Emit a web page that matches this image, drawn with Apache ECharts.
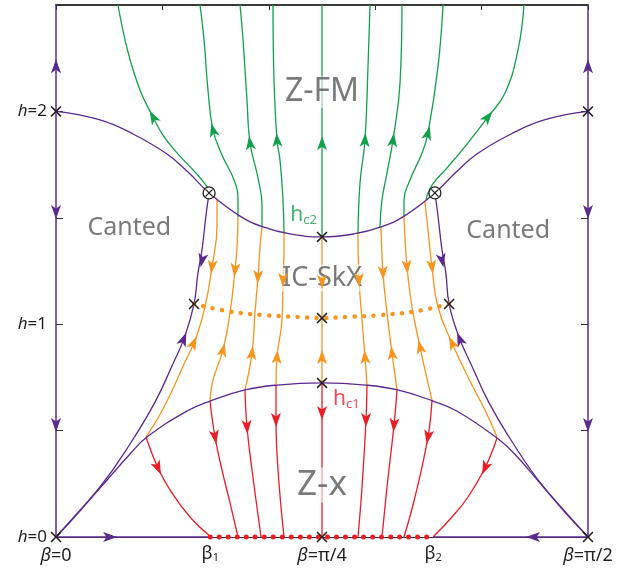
<!DOCTYPE html>
<html>
<head>
<meta charset="utf-8">
<script src="https://cdn.jsdelivr.net/npm/echarts@6/dist/echarts.min.js"></script>
<style>
html, body { margin: 0; padding: 0; background: #fff; }
#main { width: 617px; height: 574px; }
</style>
</head>
<body>
<div id="main"></div>
<script>
// x: beta in degrees (0 .. 90 = pi/2), y: field h
var betaTickValues = [0, 26.1, 45, 63.8, 90];
var betaTickLabels = ['{i|β}=0', 'β{s|1}', '{i|β}=π/4', 'β{s|2}', '{i|β}=π/2'];
var hLabelValues = [0, 1, 2];

// phase boundaries (purple)
var hc2Curve = [[0, 2.0], [7.44, 1.96], [13.03, 1.894], [18.78, 1.8], [22.33, 1.715], [25.9, 1.617],
  [31.13, 1.508], [35.02, 1.457], [39.59, 1.424], [45, 1.41], [50.4, 1.424], [55, 1.457], [58.9, 1.508],
  [64.1, 1.617], [67.7, 1.715], [71.2, 1.8], [77, 1.894], [82.6, 1.96], [90, 2.0]];
var hc1Curve = [[0, 0], [7.44, 0.23], [12.52, 0.39], [15.39, 0.47], [22.16, 0.592], [26.05, 0.639], [31.97, 0.691],
  [37.39, 0.714], [45, 0.724], [52.4, 0.714], [57.8, 0.691], [63.8, 0.639], [67.8, 0.592], [74.61, 0.465],
  [77.6, 0.39], [82.6, 0.23], [90, 0]];
var leftSkxEdge = [[0, 0], [7.44, 0.235], [12.52, 0.437], [16.75, 0.634], [19.62, 0.804], [21.82, 0.945],
  [23.35, 1.095], [24.02, 1.241], [24.7, 1.349], [25.38, 1.513], [25.9, 1.617]];
var rightSkxEdge = [[64.1, 1.617], [64.6, 1.513], [65.3, 1.349], [65.95, 1.241], [66.5, 1.095], [68.1, 0.945],
  [70.35, 0.804], [73.2, 0.634], [77.4, 0.437], [82.5, 0.235], [90, 0]];
var bottomLeft = [[0, 0], [26.1, 0]];
var bottomRight = [[63.8, 0], [90, 0]];

// dotted lines of fixed points
var skxDotted = [[23.35, 1.095], [28.93, 1.062], [35.02, 1.043], [40.77, 1.034], [45, 1.029], [49.2, 1.034],
  [55.0, 1.043], [61.1, 1.062], [66.5, 1.095]];
var zxDotted = [[26.1, 0], [63.8, 0]];

// flow lines
var greenLines = [
  [[26.73, 1.593], [25.21, 1.659], [23.18, 1.725], [20.47, 1.805], [18.1, 1.889], [16.41, 1.974], [14.21, 2.101], [12.18, 2.279], [10.49, 2.5]],
  [[30.79, 1.504], [30.79, 1.584], [30.11, 1.678], [28.08, 1.795], [26.56, 1.913], [25.71, 2.101], [25.04, 2.336], [24.36, 2.5]],
  [[34.85, 1.457], [34.85, 1.56], [34.17, 1.687], [32.82, 1.852], [32.31, 2.054], [31.64, 2.336], [31.13, 2.5]],
  [[38.57, 1.429], [38.4, 1.584], [37.89, 1.772], [37.39, 1.866], [36.88, 2.148], [36.71, 2.5]],
  [[45, 1.41], [45, 2.5]],
  [[51.09, 1.429], [51.43, 1.664], [52.27, 1.866], [52.78, 2.209], [53.12, 2.5]],
  [[54.81, 1.457], [55.15, 1.584], [56.0, 1.711], [57.01, 1.866], [58.2, 2.133], [58.53, 2.5]],
  [[58.87, 1.504], [58.87, 1.584], [59.89, 1.678], [61.92, 1.805], [62.93, 1.898], [64.62, 2.209], [65.47, 2.5]],
  [[62.59, 1.584], [63.61, 1.654], [66.31, 1.739], [69.7, 1.852], [73.08, 1.974], [75.96, 2.086], [78.16, 2.289], [79.17, 2.5]]
];
var orangeLines = [
  [[27.24, 1.584], [27.24, 1.466], [26.39, 1.269], [25.21, 1.081], [23.68, 0.935], [21.82, 0.822], [19.29, 0.667], [17.26, 0.559], [15.23, 0.47]],
  [[30.79, 1.504], [30.62, 1.363], [30.28, 1.255], [29.44, 1.053], [28.25, 0.879], [26.56, 0.738], [26.05, 0.639]],
  [[34.85, 1.457], [34.51, 1.363], [34.17, 1.222], [33.66, 1.053], [33.16, 0.865], [31.97, 0.691]],
  [[38.57, 1.429], [38.57, 1.349], [38.4, 1.208], [38.23, 1.02], [37.39, 0.846], [37.22, 0.714]],
  [[45, 1.41], [45, 0.724]],
  [[51.09, 1.429], [51.26, 1.208], [51.77, 1.02], [52.27, 0.846], [52.61, 0.714]],
  [[54.98, 1.457], [55.32, 1.241], [56.0, 1.053], [56.84, 0.865], [57.69, 0.691]],
  [[58.87, 1.504], [59.38, 1.269], [60.22, 1.081], [61.58, 0.893], [62.42, 0.785], [63.61, 0.644]],
  [[62.42, 1.574], [62.93, 1.443], [63.61, 1.269], [64.62, 1.081], [66.99, 0.912], [70.37, 0.714], [72.57, 0.597], [74.61, 0.47]]
];
var redLines = [
  [[15.23, 0.47], [17.26, 0.324], [19.29, 0.221], [22.67, 0.094], [26.22, 0]],
  [[26.05, 0.639], [26.9, 0.47], [28.08, 0.315], [29.44, 0.16], [30.79, 0]],
  [[31.97, 0.691], [32.31, 0.517], [33.16, 0.315], [34.68, 0]],
  [[37.22, 0.714], [37.22, 0.55], [37.56, 0.315], [38.57, 0]],
  [[45, 0.724], [45, 0]],
  [[52.61, 0.714], [52.44, 0.55], [51.77, 0.235], [51.09, 0]],
  [[57.69, 0.691], [57.18, 0.526], [56.0, 0.235], [55.15, 0]],
  [[63.61, 0.644], [62.93, 0.47], [60.73, 0.188], [58.87, 0]],
  [[74.61, 0.465], [72.57, 0.324], [69.7, 0.188], [66.99, 0.094], [63.78, 0]]
];

// arrows: [beta, h, direction (deg, counter-clockwise from up)]
var purpleArrows = [[0, 2.212, 0], [0, 1.527, 180], [0, 0.526, 180], [90, 2.212, 0], [90, 1.527, 180], [90, 0.526, 180],
  [9.14, 0, -90], [80.7, 0, 90], [24.7, 1.3, 168], [21.6, 0.93, -22], [65.3, 1.3, 192], [68.3, 0.93, 22]];
var greenArrows = [[16.41, 1.974, 29], [26.56, 1.913, 15], [32.82, 1.852, 8], [37.39, 1.866, 4], [45, 1.85, 0],
  [52.27, 1.866, -3], [57.01, 1.866, -8], [62.93, 1.898, -15], [73.08, 1.974, -38]];
var orangeArrows = [[26.39, 1.269, 173], [30.28, 1.255, 175], [34.17, 1.222, 177], [38.4, 1.208, 179], [45, 1.2, 180],
  [51.26, 1.208, 181], [55.32, 1.241, 183], [59.38, 1.269, 185], [63.61, 1.269, 187],
  [23.3, 0.912, -25], [28.25, 0.879, -14], [33.16, 0.865, -7], [37.39, 0.846, -4], [45, 0.846, 0],
  [52.27, 0.846, 4], [56.84, 0.865, 7], [61.58, 0.893, 14], [66.99, 0.912, 25]];
var redArrows = [[17.26, 0.324, 204], [26.9, 0.47, 190], [32.31, 0.517, 184], [37.22, 0.55, 181], [45, 0.583, 180],
  [52.44, 0.55, 179], [57.18, 0.526, 176], [62.93, 0.47, 170], [72.57, 0.324, 156]];

// fixed points
var fixedPoints = [[0, 2], [90, 2], [45, 1.41], [45, 1.029], [45, 0.724], [23.35, 1.095], [66.5, 1.095], [0, 0], [45, 0], [90, 0]];
var multicritical = [[25.9, 1.617], [64.1, 1.617]];

// phase names
var regionLabels = [['Z-FM', 45, 2.09, 32], ['Canted', 12.4, 1.452, 25], ['Canted', 76.5, 1.438, 25],
  ['IC-SkX', 45, 1.217, 27], ['Z-x', 45, 0.244, 35]];
var fieldLabels = [['c2', 41.9, 1.513], ['c1', 49.1, 0.65]];

var PURPLE = '#5b2a8e', GREEN = '#12a14b', ORANGE = '#f7941d', RED = '#ec1c24', INK = '#231f20', GREY = '#58595b';
var FONT = 'Noto Sans';

var myChart = echarts.init(document.getElementById('main'));

function curve(data, color, z) {
    return {
        type: 'line', data: data, symbol: 'none', smooth: 0.45, silent: true, clip: false,
        lineStyle: { color: color, width: 1.3 }, z: z || 2
    };
}
function dotted(data, color, w, gap) {
    return {
        type: 'line', data: data, symbol: 'none', silent: true, clip: false,
        lineStyle: { color: color, width: w, type: [0.01, gap], cap: 'round' }, z: 3, smooth: 0.4
    };
}
function arrows(list, color) {
    return {
        type: 'scatter', silent: true, z: 5, clip: false,
        symbol: 'path://M5,0 L10,14 L5,10.5 L0,14 Z', symbolSize: [10, 14],
        itemStyle: { color: color, opacity: 1 },
        data: list.map(function (a) { return { value: [a[0], a[1]], symbolRotate: a[2] }; })
    };
}

var series = [];
greenLines.forEach(function (d) { series.push(curve(d, GREEN)); });
orangeLines.forEach(function (d) { series.push(curve(d, ORANGE)); });
redLines.forEach(function (d) { series.push(curve(d, RED)); });
series.push(curve(hc2Curve, PURPLE, 3), curve(hc1Curve, PURPLE, 3), curve(leftSkxEdge, PURPLE, 3),
    curve(rightSkxEdge, PURPLE, 3), curve(bottomLeft, PURPLE, 3), curve(bottomRight, PURPLE, 3));
series.push(dotted(skxDotted, ORANGE, 4.5, 9.5), dotted(zxDotted, RED, 5, 9));
series.push(arrows(purpleArrows, PURPLE), arrows(greenArrows, GREEN), arrows(orangeArrows, ORANGE), arrows(redArrows, RED));

// multicritical points (circle with cross)
series.push({
    type: 'scatter', silent: true, z: 6, symbol: 'circle', symbolSize: 12, clip: false,
    itemStyle: { color: '#fff', borderColor: INK, borderWidth: 1.3, opacity: 1 },
    data: multicritical
});
var crossPath = 'path://M1,0 L5,4 L9,0 L10,1 L6,5 L10,9 L9,10 L5,6 L1,10 L0,9 L4,5 L0,1 Z';
series.push({
    type: 'scatter', silent: true, z: 7, symbol: crossPath, symbolSize: 8, clip: false,
    itemStyle: { color: INK, opacity: 1 }, data: multicritical
});
series.push({
    type: 'scatter', silent: true, z: 7, symbol: crossPath, symbolSize: 11, clip: false,
    itemStyle: { color: INK, opacity: 1 }, data: fixedPoints
});

// phase names
series.push({
    type: 'scatter', silent: true, z: 4, symbolSize: 0,
    data: regionLabels.map(function (r) {
        return {
            name: r[0], value: [r[1], r[2]],
            label: { fontSize: r[3] }
        };
    }),
    label: {
        show: true, position: 'inside', formatter: '{b}', color: GREY, fontFamily: FONT,
        backgroundColor: 'rgba(255,255,255,0.72)', padding: [0, 2]
    }
});
series.push({
    type: 'scatter', silent: true, z: 4, symbolSize: 0,
    data: fieldLabels.map(function (r, i) {
        var c = i === 0 ? GREEN : RED;
        return {
            name: r[0], value: [r[1], r[2]],
            label: { rich: { h: { color: c, fontSize: 21, lineHeight: 24, fontFamily: FONT },
                             s: { color: c, fontSize: 13, lineHeight: 12, verticalAlign: 'bottom', fontFamily: FONT } } }
        };
    }),
    label: { show: true, position: 'inside', formatter: function (p) { return '{h|h}{s|' + p.name + '}'; } }
});

var option = {
    animation: false,
    backgroundColor: '#fff',
    grid: { left: 56, right: 29, top: 5, bottom: 37 },
    xAxis: [
        {
            type: 'value', min: 0, max: 90, position: 'bottom',
            axisLine: { onZero: false, lineStyle: { color: '#333', width: 1 } },
            axisTick: { show: false },
            splitLine: { show: false },
            axisLabel: {
                customValues: betaTickValues, margin: 8, color: INK, fontFamily: FONT, fontSize: 18,
                formatter: function (v) {
                    var k = 0;
                    betaTickValues.forEach(function (b, i) { if (Math.abs(b - v) < 0.01) k = i; });
                    return betaTickLabels[k];
                },
                rich: {
                    i: { fontStyle: 'italic', fontSize: 18, color: INK, fontFamily: FONT, lineHeight: 21 },
                    s: { fontSize: 11, color: INK, lineHeight: 10, verticalAlign: 'bottom', fontFamily: FONT }
                }
            }
        },
        {
            type: 'value', min: 0, max: 90, interval: 18, position: 'top',
            axisLine: { onZero: false, lineStyle: { color: '#3a3a3a', width: 1.8 } },
            axisTick: { inside: true, length: 5, lineStyle: { color: '#333' } },
            axisLabel: { show: false }, splitLine: { show: false }
        }
    ],
    yAxis: [
        {
            type: 'value', min: 0, max: 2.5, interval: 0.5, position: 'left',
            axisLine: { show: true, onZero: false, lineStyle: { color: PURPLE, width: 1.5 } },
            axisTick: { show: true, inside: true, length: 7, lineStyle: { color: '#333' } },
            splitLine: { show: false },
            axisLabel: {
                margin: 9, color: INK, fontFamily: FONT, fontSize: 17,
                formatter: function (v) { return hLabelValues.indexOf(v) >= 0 ? '{i|h}=' + v : ''; },
                rich: { i: { fontStyle: 'italic', fontSize: 17, color: INK, fontFamily: FONT } }
            }
        },
        {
            type: 'value', min: 0, max: 2.5, interval: 0.5, position: 'right',
            axisLine: { show: true, onZero: false, lineStyle: { color: PURPLE, width: 1.5 } },
            axisTick: { show: true, inside: true, length: 7, lineStyle: { color: '#333' } },
            axisLabel: { show: false }, splitLine: { show: false }
        }
    ],
    series: series
};
myChart.setOption(option);
</script>
</body>
</html>
